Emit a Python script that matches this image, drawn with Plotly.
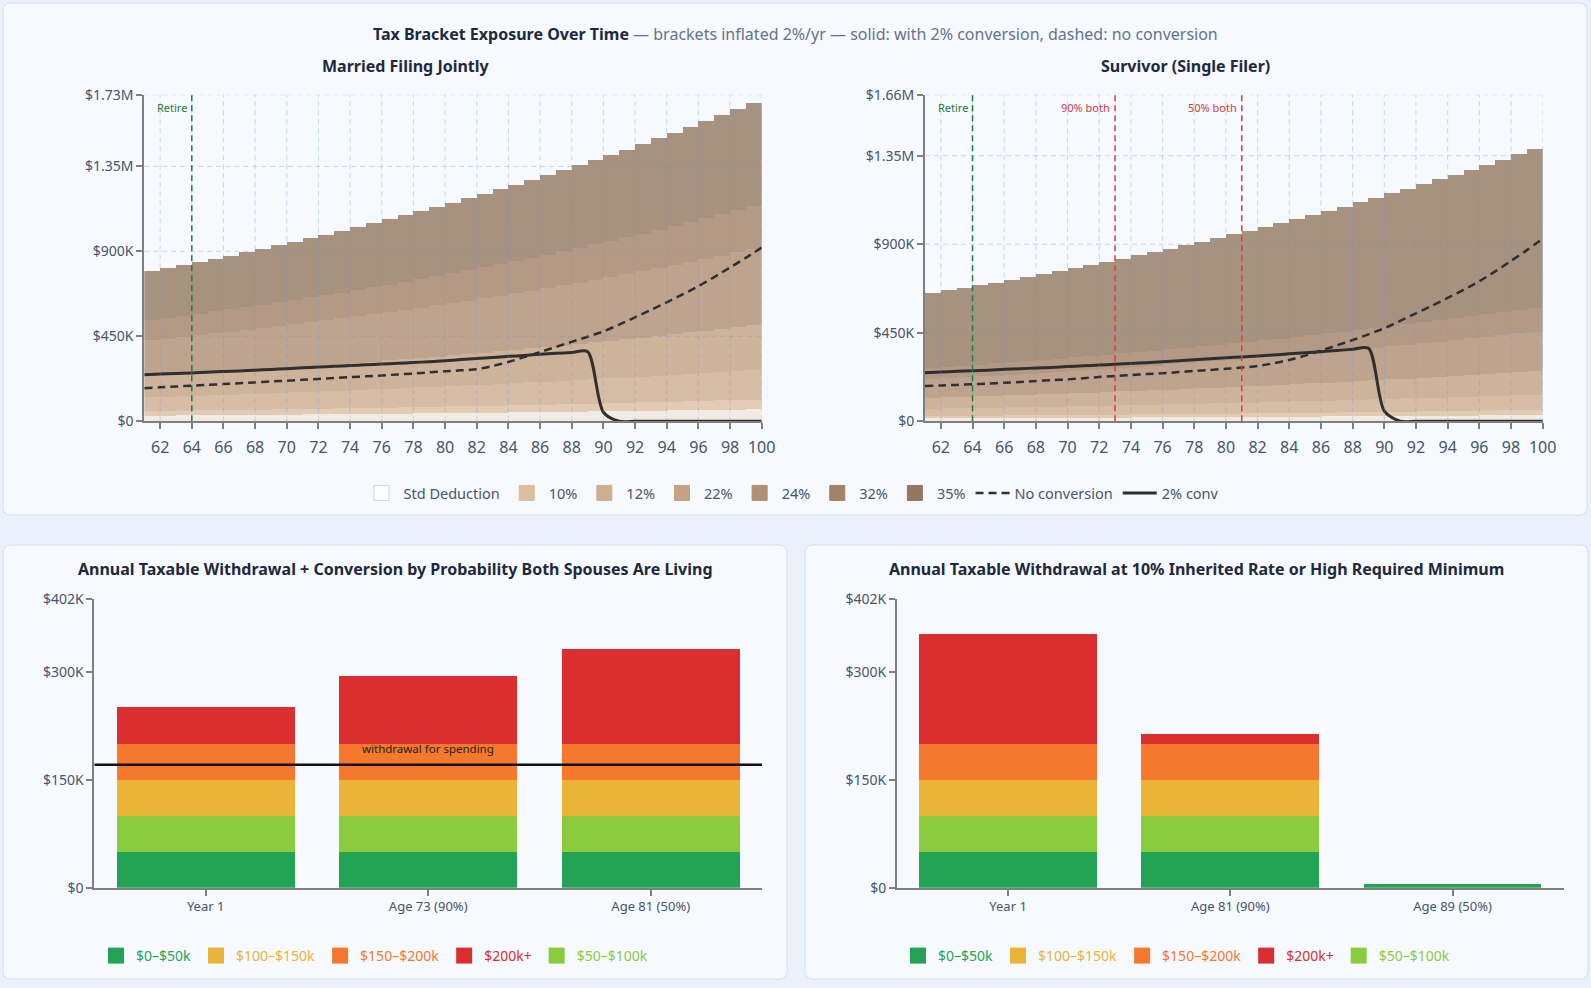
import plotly.graph_objects as go

W, H = 1591, 988
FONT = "Noto Sans, Segoe UI, sans-serif"

# ---------------- data: top charts (values in $K) ----------------
BAR_AGES = list(range(61, 100))          # each bar spans [age, age+1]
LINE_AGES = list(range(61, 101))
# bracket inflation index (2%/yr) relative to age 61
BRACKET_INDEX = [1.000, 1.020, 1.040, 1.061, 1.082, 1.104, 1.126, 1.149, 1.172, 1.195,
                 1.219, 1.243, 1.268, 1.294, 1.319, 1.346, 1.373, 1.400, 1.428, 1.457,
                 1.486, 1.516, 1.546, 1.577, 1.608, 1.641, 1.673, 1.707, 1.741, 1.776,
                 1.811, 1.848, 1.885, 1.922, 1.961, 2.000, 2.040, 2.081, 2.122]

BAND_NAMES = ["Std Deduction", "10%", "12%", "22%", "24%", "32%", "35%"]
BAND_LEGEND_COLORS = ["#ffffff", "#dcbf9f", "#cfae8f", "#c4a282", "#b08f72", "#a38266", "#937760"]
BAND_FILL_COLORS = ["#f1ebe4", "#e1cbb2", "#d7bda5", "#ceb39b", "#bea48e", "#b49a84", "#a7917f"]

# cumulative band tops at age 61 ($K)
MFJ_TOPS_61 = [30, 54, 128, 240, 430, 538, 795]
SURV_TOPS_61 = [15, 27, 64, 120, 215, 272, 652]

MFJ_CONV = [247, 250, 253, 256, 260, 264, 267, 271, 275, 279, 283, 287, 291, 295, 299, 303,
            307, 311, 316, 321, 327, 332, 338, 344, 349, 355, 360, 364, 369, 48, 0, 0, 0, 0,
            0, 0, 0, 0, 0, 0]
MFJ_NOCONV = [175, 180, 184, 189, 193, 197, 202, 206, 211, 215, 220, 224, 229, 234, 238, 243,
              248, 253, 259, 265, 270, 276, 293, 314, 340, 367, 394, 421, 448, 476, 512, 551,
              590, 630, 672, 716, 764, 815, 866, 920]
SURV_CONV = [247, 250, 254, 257, 260, 264, 267, 271, 274, 278, 282, 286, 290, 294, 298, 303,
             308, 313, 318, 323, 327, 332, 337, 343, 348, 354, 360, 366, 371, 52, 0, 0, 0, 0,
             0, 0, 0, 0, 0, 0]
SURV_NOCONV = [179, 182, 185, 188, 192, 196, 200, 205, 209, 213, 219, 225, 230, 235, 240, 244,
               250, 256, 261, 267, 273, 281, 295, 312, 334, 359, 386, 413, 442, 473, 510, 549,
               587, 627, 668, 712, 762, 815, 870, 928]

TOP_XTICKS = list(range(62, 101, 2))
MFJ_YTICKS = [0, 450, 900, 1350, 1730]
MFJ_YTEXT = ["$0", "$450K", "$900K", "$1.35M", "$1.73M"]
SURV_YTICKS = [0, 450, 900, 1350, 1660]
SURV_YTEXT = ["$0", "$450K", "$900K", "$1.35M", "$1.66M"]

MFJ_EVENTS = [64]
MFJ_EVENT_LABELS = ["Retire"]
SURV_EVENTS = [64, 73, 81]
SURV_EVENT_LABELS = ["Retire", "90% both", "50% both"]

# ---------------- data: bottom charts ($K) ----------------
SEG_NAMES = ["$0–$50k", "$50–$100k", "$100–$150k", "$150–$200k", "$200k+"]
SEG_COLORS = ["#23a455", "#8bcc3f", "#ebb338", "#f5782c", "#db2f2f"]
SEG_LEGEND_RANK = [1, 5, 2, 3, 4]

BL_CATS = ["Year 1", "Age 73 (90%)", "Age 81 (50%)"]
BL_SEGS = [[50, 50, 50], [50, 50, 50], [50, 50, 50], [50, 50, 50], [51, 95, 132]]
SPENDING = 171

BR_CATS = ["Year 1", "Age 81 (90%)", "Age 89 (50%)"]
BR_SEGS = [[50, 50, 5.5], [50, 50, None], [50, 50, None], [50, 50, None], [153, 14, None]]

BOTTOM_YTICKS = [0, 150, 300, 402]
BOTTOM_YTEXT = ["$0", "$150K", "$300K", "$402K"]


def px(x):
    return x / W


def py(y):
    return 1 - y / H


fig = go.Figure()

INK = "#1e293b"
TICK = "#475569"
AXIS = "#7f7f7f"


def add_top(tops, conv, noconv, xa, ya, show):
    prev = 0
    for i, name in enumerate(BAND_NAMES):
        h = [(tops[i] - prev) * f for f in BRACKET_INDEX]
        prev = tops[i]
        fig.add_trace(go.Bar(x=BAR_AGES, y=h, width=1, offset=0, name=name,
                             marker=dict(color=BAND_FILL_COLORS[i], line=dict(width=0)),
                             xaxis=xa, yaxis=ya, showlegend=False, hoverinfo="skip"))
    fig.add_trace(go.Scatter(x=LINE_AGES, y=noconv, mode="lines", name="No conversion",
                             line=dict(color="#2f2f2f", width=2.5, dash="8px,5px", shape="spline", smoothing=0.8),
                             xaxis=xa, yaxis=ya, showlegend=show, legendrank=8, legend="legend"))
    fig.add_trace(go.Scatter(x=LINE_AGES, y=conv, mode="lines", name="2% conv",
                             line=dict(color="#2f2f2f", width=3, shape="spline", smoothing=0.8),
                             xaxis=xa, yaxis=ya, showlegend=show, legendrank=9, legend="legend"))


add_top(MFJ_TOPS_61, MFJ_CONV, MFJ_NOCONV, "x", "y", True)
add_top(SURV_TOPS_61, SURV_CONV, SURV_NOCONV, "x2", "y2", False)

# legend-only swatches for the bands
for i, name in enumerate(BAND_NAMES):
    fig.add_trace(go.Scatter(x=[None], y=[None], mode="markers", name=name,
                             marker=dict(symbol="square", size=15, color=BAND_LEGEND_COLORS[i],
                                         line=dict(color="#cfd4da" if i == 0 else BAND_LEGEND_COLORS[i], width=1)),
                             xaxis="x", yaxis="y", legend="legend", legendrank=i + 1))


def add_bottom(cats, segs, xa, ya, leg):
    for i, name in enumerate(SEG_NAMES):
        fig.add_trace(go.Bar(x=cats, y=segs[i], name=name,
                             marker=dict(color=SEG_COLORS[i], line=dict(width=0)),
                             xaxis=xa, yaxis=ya, showlegend=False, hoverinfo="skip"))
        fig.add_trace(go.Scatter(x=[None], y=[None], mode="markers",
                                 name=f"<span style='color:{SEG_COLORS[i]}'>{name}</span>",
                                 marker=dict(symbol="square", size=17, color=SEG_COLORS[i]),
                                 xaxis=xa, yaxis=ya, legend=leg, legendrank=SEG_LEGEND_RANK[i]))


add_bottom(BL_CATS, BL_SEGS, "x3", "y3", "legend2")
add_bottom(BR_CATS, BR_SEGS, "x4", "y4", "legend3")

# ---------------- shapes ----------------
shapes = []


def card(x0, y0, x1, y1, r=8):
    rx, ry = r / W, r / H
    X0, X1, Y0, Y1 = px(x0), px(x1), py(y1), py(y0)
    path = (f"M{X0+rx},{Y0} L{X1-rx},{Y0} Q{X1},{Y0} {X1},{Y0+ry} L{X1},{Y1-ry} "
            f"Q{X1},{Y1} {X1-rx},{Y1} L{X0+rx},{Y1} Q{X0},{Y1} {X0},{Y1-ry} "
            f"L{X0},{Y0+ry} Q{X0},{Y0} {X0+rx},{Y0} Z")
    shapes.append(dict(type="path", path=path, xref="paper", yref="paper", layer="below",
                       fillcolor="#f6f9fd", line=dict(color="#d3deec", width=1)))


card(3, 3, 1587, 515)
card(3, 545, 787, 979)
card(805, 545, 1588, 979)

GRID = dict(color="rgba(96,150,220,0.32)", width=1, dash="5px,4px")
for xa, ya, yt in (("x", "y", MFJ_YTICKS), ("x2", "y2", SURV_YTICKS)):
    for t in TOP_XTICKS:
        shapes.append(dict(type="line", xref=xa, yref=f"{ya} domain", x0=t, x1=t, y0=0, y1=1,
                           layer="above", line=GRID))
    for t in yt[1:]:
        shapes.append(dict(type="line", xref=f"{xa} domain", yref=ya, x0=0, x1=1, y0=t, y1=t,
                           layer="above", line=GRID))

annotations = []
EVENT_COLORS = {"Retire": "#1e7d3e"}
for xa, ya, evs, labs in (("x", "y", MFJ_EVENTS, MFJ_EVENT_LABELS), ("x2", "y2", SURV_EVENTS, SURV_EVENT_LABELS)):
    for e, lab in zip(evs, labs):
        col = EVENT_COLORS.get(lab, "#dc3b3b")
        shapes.append(dict(type="line", xref=xa, yref=f"{ya} domain", x0=e, x1=e, y0=0, y1=1,
                           layer="above", line=dict(color=col, width=1.5, dash="6px,4px")))
        annotations.append(dict(x=e, xref=xa, y=1, yref=f"{ya} domain", text=lab, showarrow=False,
                                xanchor="right", yanchor="top", xshift=-3, yshift=-3,
                                font=dict(size=11, color=col, family=FONT)))

shapes.append(dict(type="line", xref="x3 domain", yref="y3", x0=0, x1=1, y0=SPENDING, y1=SPENDING,
                   layer="above", line=dict(color="#111111", width=2.5)))
annotations.append(dict(x=BL_CATS[1], xref="x3", y=SPENDING, yref="y3", text="withdrawal for spending",
                        showarrow=False, yanchor="bottom", yshift=7,
                        font=dict(size=11.5, color="#222222", family=FONT)))

# titles
annotations.append(dict(x=px(795), y=py(34), xref="paper", yref="paper", showarrow=False,
                        text="<b>Tax Bracket Exposure Over Time</b><span style='color:#64748b'> — brackets inflated 2%/yr — solid: with 2% conversion, dashed: no conversion</span>",
                        font=dict(size=16, color=INK, family=FONT), xanchor="center", yanchor="middle"))
for x, t in ((406, "Married Filing Jointly"), (1185, "Survivor (Single Filer)")):
    annotations.append(dict(x=px(x), y=py(66), xref="paper", yref="paper", showarrow=False,
                            text=f"<b>{t}</b>", font=dict(size=16, color=INK, family=FONT),
                            xanchor="center", yanchor="middle"))
for x, t in ((395, "Annual Taxable Withdrawal + Conversion by Probability Both Spouses Are Living"),
             (1196, "Annual Taxable Withdrawal at 10% Inherited Rate or High Required Minimum")):
    annotations.append(dict(x=px(x), y=py(569), xref="paper", yref="paper", showarrow=False,
                            text=f"<b>{t}</b>", font=dict(size=16, color=INK, family=FONT),
                            xanchor="center", yanchor="middle"))

axis_common = dict(showline=True, linecolor=AXIS, linewidth=2, ticks="outside", ticklen=6,
                   tickcolor=AXIS, tickwidth=1.5, showgrid=False, zeroline=False, fixedrange=True,
                   automargin=False)

top_y = [py(421.3), py(94.7)]
bot_y = [py(887.8), py(598.7)]

fig.update_layout(
    width=W, height=H, autosize=False,
    margin=dict(l=0, r=0, t=0, b=0, pad=0, autoexpand=False),
    paper_bgcolor="#ebf1fa", plot_bgcolor="rgba(0,0,0,0)",
    font=dict(family=FONT, color=TICK),
    barmode="stack", bargap=0.2,
    shapes=shapes, annotations=annotations,
    xaxis=dict(domain=[px(144.3), px(761.7)], range=[61, 100], tickvals=TOP_XTICKS,
               tickfont=dict(size=16, color=TICK), ticklabelstandoff=4, anchor="y", **axis_common),
    yaxis=dict(domain=top_y, range=[0, 1730], tickvals=MFJ_YTICKS, ticktext=MFJ_YTEXT,
               tickfont=dict(size=14, color=TICK), anchor="x", **axis_common),
    xaxis2=dict(domain=[px(925), px(1542.7)], range=[61, 100], tickvals=TOP_XTICKS,
                tickfont=dict(size=16, color=TICK), ticklabelstandoff=4, anchor="y2", **axis_common),
    yaxis2=dict(domain=top_y, range=[0, 1660], tickvals=SURV_YTICKS, ticktext=SURV_YTEXT,
                tickfont=dict(size=14, color=TICK), anchor="x2", **axis_common),
    xaxis3=dict(domain=[px(94.4), px(762)], tickfont=dict(size=13, color=TICK), anchor="y3",
                **axis_common),
    yaxis3=dict(domain=bot_y, range=[0, 402], tickvals=BOTTOM_YTICKS, ticktext=BOTTOM_YTEXT,
                tickfont=dict(size=14, color=TICK), anchor="x3", **axis_common),
    xaxis4=dict(domain=[px(897), px(1563.6)], tickfont=dict(size=13, color=TICK), anchor="y4",
                **axis_common),
    yaxis4=dict(domain=bot_y, range=[0, 402], tickvals=BOTTOM_YTICKS, ticktext=BOTTOM_YTEXT,
                tickfont=dict(size=14, color=TICK), anchor="x4", **axis_common),
    legend=dict(orientation="h", x=px(792), xanchor="center", y=py(493), yanchor="middle",
                font=dict(size=14.5, color=TICK), bgcolor="rgba(0,0,0,0)", traceorder="normal",
                itemwidth=34),
    legend2=dict(orientation="h", x=px(96), xanchor="left", y=py(956), yanchor="middle",
                 font=dict(size=14), bgcolor="rgba(0,0,0,0)", traceorder="normal", itemwidth=30),
    legend3=dict(orientation="h", x=px(898), xanchor="left", y=py(956), yanchor="middle",
                 font=dict(size=14), bgcolor="rgba(0,0,0,0)", traceorder="normal", itemwidth=30),
    showlegend=True,
)

fig.write_html("out.html",
               post_script="document.documentElement.style.margin='0';document.body.style.margin='0';"
                           "document.body.style.overflow='hidden';")
